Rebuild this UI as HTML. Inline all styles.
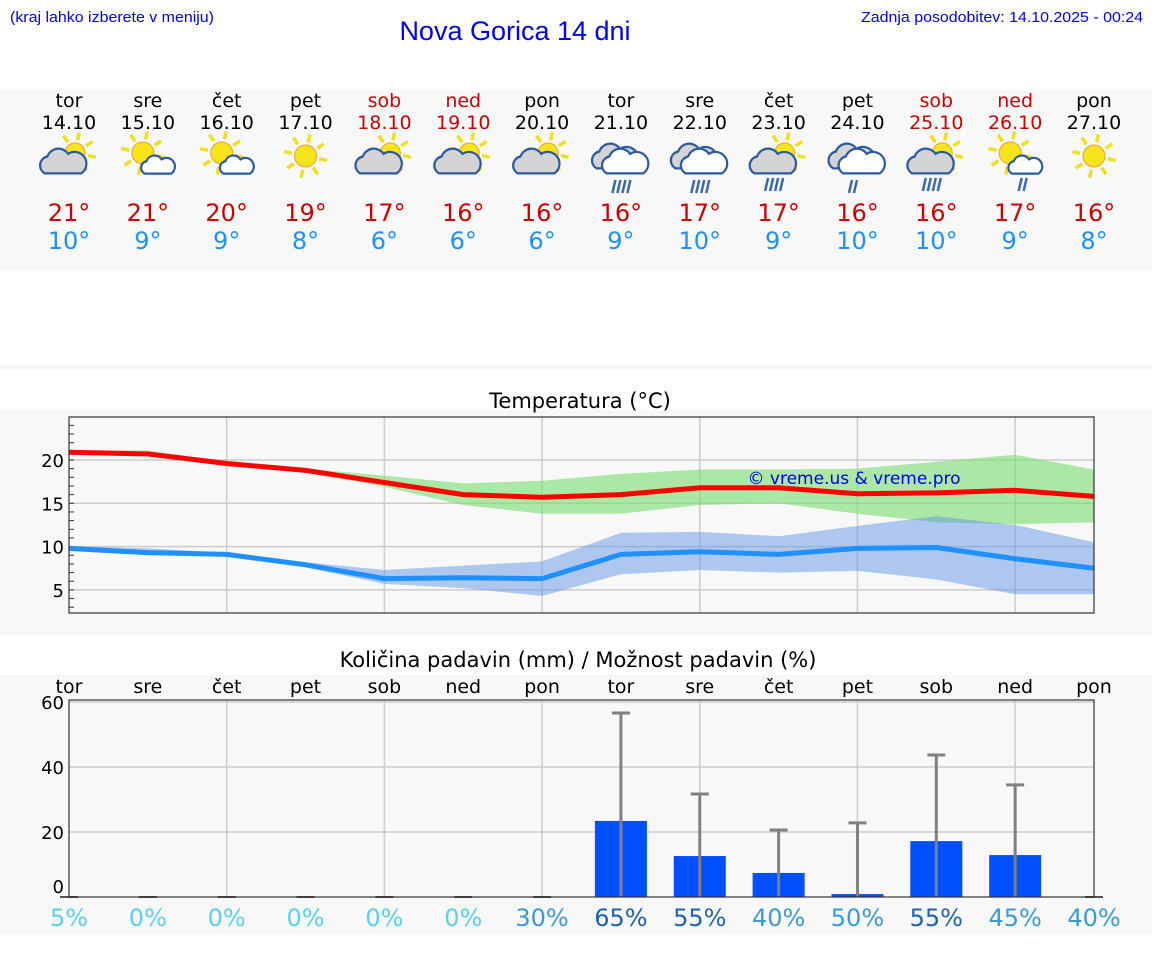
<!DOCTYPE html>
<html><head><meta charset="utf-8"><style>
body{margin:0;background:#fff;width:1152px;height:975px;overflow:hidden}
svg{display:block;font-family:"DejaVu Sans","Liberation Sans",sans-serif}
</style></head><body>
<svg id="s" width="1152" height="975" viewBox="0 0 1152 975">
<rect x="0" y="90" width="1152" height="180" fill="#f8f8f8"/>
<rect x="0" y="365" width="1152" height="5" fill="#f8f8f8"/>
<rect x="0" y="410" width="1152" height="225" fill="#f8f8f8"/>
<rect x="0" y="675" width="1152" height="260" fill="#f8f8f8"/>
<text x="10" y="22" font-family="Liberation Sans Narrow, Liberation Sans, sans-serif" font-size="15" fill="#0000ee" textLength="204" lengthAdjust="spacingAndGlyphs">(kraj lahko izberete v meniju)</text>
<text x="1143" y="22" text-anchor="end" font-family="Liberation Sans, sans-serif" font-size="15" fill="#0000ee" textLength="282" lengthAdjust="spacingAndGlyphs">Zadnja posodobitev: 14.10.2025 - 00:24</text>
<text x="515" y="40" text-anchor="middle" font-family="Liberation Sans, sans-serif" font-size="27" fill="#0000ee">Nova Gorica 14 dni</text>
<text x="580" y="408" text-anchor="middle" font-size="21" fill="#000">Temperatura (°C)</text>
<text x="578" y="667" text-anchor="middle" font-size="21" fill="#000">Količina padavin (mm) / Možnost padavin (%)</text>
<g id="g"></g>
</svg>
<script>
const days=["tor","sre","čet","pet","sob","ned","pon","tor","sre","čet","pet","sob","ned","pon"];
const dates=["14.10","15.10","16.10","17.10","18.10","19.10","20.10","21.10","22.10","23.10","24.10","25.10","26.10","27.10"];
const icons=["pcg","pcw","pcw","sun","pcg","pcg","pcg","rain3","rain3","pcgr","rain1","pcgr","pcwr","sun"];
const tMax=[21,21,20,19,17,16,16,16,17,17,16,16,17,16];
const tMin=[10,9,9,8,6,6,6,9,10,9,10,10,9,8];
const maxLine=[20.9,20.7,19.6,18.8,17.4,16.0,15.7,16.0,16.8,16.8,16.1,16.2,16.5,15.8];
const maxHi=[21.1,21.1,19.8,19.0,18.2,17.3,17.6,18.4,18.9,18.9,19.0,19.8,20.6,18.9];
const maxLo=[20.6,20.4,19.5,18.6,16.9,14.8,13.8,13.8,14.8,15.0,13.8,12.8,12.6,12.8];
const minLine=[9.8,9.3,9.1,7.9,6.3,6.4,6.3,9.1,9.4,9.1,9.8,9.9,8.6,7.5];
const minHi=[10.0,9.8,9.3,8.2,7.3,7.8,8.3,11.6,11.7,11.2,12.4,13.5,12.5,10.5];
const minLo=[9.5,9.0,9.0,7.6,5.7,5.2,4.3,6.8,7.3,7.0,7.2,6.2,4.5,4.5];
const tempTicks=[5,10,15,20];
const precip=[0,0,0,0,0,0,0,23.4,12.6,7.4,0.9,17.2,12.9,0];
const precipMax=[0,0,0,0,0,0,0,56.6,31.7,20.6,22.8,43.7,34.5,0];
const prob=[5,0,0,0,0,0,30,65,55,40,50,55,45,40];
const precipTicks=[0,20,40,60];

const NS="http://www.w3.org/2000/svg";
const G=document.getElementById('g');
function el(t,a,p){const e=document.createElementNS(NS,t);for(const k in a)e.setAttribute(k,a[k]);(p||G).appendChild(e);return e;}
const X=i=>69+i*(1094-69)/13;
const Ty=v=>460+(20-v)*8.66;
const Py=v=>897-v*3.25;

days.forEach((d,i)=>{
  const wk=(i==4||i==5||i==11||i==12);
  const t=el('text',{x:X(i),y:107,'text-anchor':'middle','font-size':19,fill:wk?'#cc0000':'#000'});t.textContent=d;
  
  
  const t2=el('text',{x:X(i),y:129,'text-anchor':'middle','font-size':19,fill:wk?'#cc0000':'#000'});t2.textContent=dates[i];
  
  
  const t3=el('text',{x:X(i),y:221,'text-anchor':'middle','font-size':24,fill:'#cc0000'});t3.textContent=tMax[i]+'°';
  
  
  const t4=el('text',{x:X(i),y:249,'text-anchor':'middle','font-size':24,fill:'#1e90ff'});t4.textContent=tMin[i]+'°';
  
  
  drawIcon(X(i),160,icons[i]);
});
function sun(g,cx,cy,r){
  for(let k=0;k<8;k++){const a=k*Math.PI/4+0.2;el('line',{x1:cx+Math.cos(a)*(r+3),y1:cy+Math.sin(a)*(r+3),x2:cx+Math.cos(a)*(r+11),y2:cy+Math.sin(a)*(r+11),stroke:'#f0e020','stroke-width':3.5},g);}
  el('circle',{cx:cx,cy:cy,r:r,fill:'#f5e51a',stroke:'#f0a030','stroke-width':1},g);
}
function cloud(g,cx,cy,s,fill){
  const p=`M${cx-14*s},${cy+8*s} a${7*s},${7*s} 0 0 1 ${2*s},${-13*s} a${9*s},${9*s} 0 0 1 ${16*s},${-2*s} a${7*s},${7*s} 0 0 1 ${10*s},${15*s} z`;
  el('path',{d:p,fill:fill,stroke:'#2c5aa0','stroke-width':2.2},g);
}
function rain(g,cx,cy,n){for(let k=0;k<n;k++){const x=cx-7+k*5;el('line',{x1:x+1.5,y1:cy,x2:x-1.5,y2:cy+13,stroke:'#3a6ab0','stroke-width':2.5},g);}}
function drawIcon(cx,cy,t){
  const g=el('g',{});
  
  
  if(t=='sun'){sun(g,cx,cy-4,11);}
  else if(t=='pcg'||t=='pcgr'){sun(g,cx+6,cy-7,10);cloud(g,cx-6,cy+3,1.3,'#d4d4d4');if(t=='pcgr')rain(g,cx-5,cy+18,4);}
  else if(t=='pcw'||t=='pcwr'){sun(g,cx-5,cy-7,11);cloud(g,cx+10,cy+6,0.95,'#fff');if(t=='pcwr')rain(g,cx+12,cy+18,2);}
  else {cloud(g,cx-6,cy-2,1.3,'#d4d4d4');cloud(g,cx+4,cy+3,1.3,'#fff');rain(g,cx,cy+20,t=='rain3'?4:2);}
}

const tb=el('rect',{x:69,y:417,width:1025,height:196,fill:'#f8f8f8'});


tempTicks.forEach(v=>{el('line',{x1:69,x2:1094,y1:Ty(v),y2:Ty(v),stroke:'#ccc','stroke-width':1.5});
  const t=el('text',{x:64,y:Ty(v)+7,'text-anchor':'end','font-size':18});t.textContent=v;
  
  });
for(let v=3;v<=24;v++)el('line',{x1:69,x2:74,y1:Ty(v),y2:Ty(v),stroke:'#333','stroke-width':1});
for(let i=2;i<13;i+=2)el('line',{x1:X(i),x2:X(i),y1:417,y2:613,stroke:'#ccc','stroke-width':1.5});
function band(hi,lo,fill,name){let d='M'+hi.map((v,i)=>X(i)+','+Ty(v)).join(' L')+' L'+lo.map((v,i)=>X(i)+','+Ty(v)).reverse().join(' L')+'Z';
  const p=el('path',{d:d,fill:fill});
  
  }
function line(a,c,name){const p=el('polyline',{points:a.map((v,i)=>X(i)+','+Ty(v)).join(' '),fill:'none',stroke:c,'stroke-width':5,'stroke-linejoin':'round'});
  
  }
band(maxHi,maxLo,'rgba(120,220,110,0.6)','max-temp-range');
band(minHi,minLo,'rgba(100,150,230,0.5)','min-temp-range');
line(maxLine,'#ff0000','max-temp-line');
line(minLine,'#1e90ff','min-temp-line');
el('rect',{x:69,y:417,width:1025,height:196,fill:'none',stroke:'#333','stroke-width':1.2});
const wm=el('text',{x:854,y:484,'text-anchor':'middle','font-size':17,fill:'#0000ee'});wm.textContent='© vreme.us & vreme.pro';



precipTicks.forEach(v=>{if(v>0)el('line',{x1:69,x2:1094,y1:Py(v),y2:Py(v),stroke:'#ccc','stroke-width':1.5});
  const t=el('text',{x:64,y:Py(v)+(v==0?-4:7),'text-anchor':'end','font-size':18});t.textContent=v;
  
  });
for(let i=2;i<13;i+=2)el('line',{x1:X(i),x2:X(i),y1:700,y2:897,stroke:'#ccc','stroke-width':1.5});
days.forEach((d,i)=>{
  const t=el('text',{x:X(i),y:693,'text-anchor':'middle','font-size':19});t.textContent=d;
  
  
  if(precip[i]>0){const b=el('rect',{x:X(i)-26,y:Py(precip[i]),width:52,height:Py(0)-Py(precip[i]),fill:'#0050ff'});
    
    }
  if(precipMax[i]>0){el('line',{x1:X(i),x2:X(i),y1:Py(precipMax[i]),y2:Py(0),stroke:'#808080','stroke-width':3});
    const c=el('line',{x1:X(i)-9,x2:X(i)+9,y1:Py(precipMax[i]),y2:Py(precipMax[i]),stroke:'#808080','stroke-width':3});
    
    }
  else el('line',{x1:X(i)-9,x2:X(i)+9,y1:Py(0),y2:Py(0),stroke:'#555','stroke-width':2});
  const p=prob[i];const col=p<30?'#5bd0ee':(p>=55?'#1e64b4':'#3a9ad9');
  const pt=el('text',{x:X(i),y:926,'text-anchor':'middle','font-size':24,fill:col});pt.textContent=p+'%';
  
  
});
el('rect',{x:69,y:700,width:1025,height:197,fill:'none',stroke:'#333','stroke-width':1.2});
</script>
</body></html>
